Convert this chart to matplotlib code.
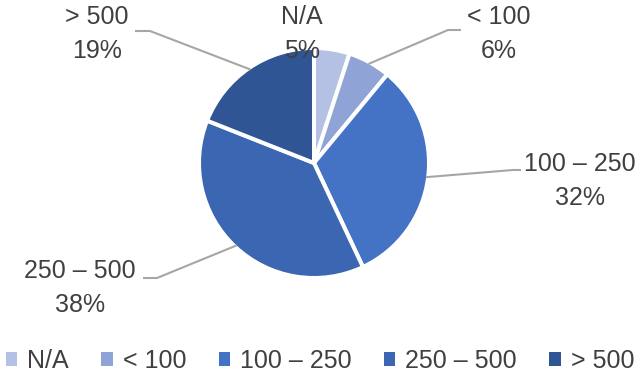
import numpy as np
import matplotlib
matplotlib.use('Agg')
import matplotlib.pyplot as plt
from matplotlib.patches import Patch

plt.rcParams['font.family'] = ['Liberation Sans', 'DejaVu Sans']

categories = ['N/A', '< 100', '100 – 250', '250 – 500', '> 500']
shares = [5, 6, 32, 38, 19]
colors = ['#b4c1e5', '#8fa3d6', '#4472c4', '#3b66b1', '#2f5594']

W, H = 640, 381
CX, CY, R = 314, 163, 115
TEXT = '#404040'

# label block centres and leader line elbow/end (pixel coords, y down)
LABEL_POS = [(302, 34), (499, 34), (580, 181), (80, 288), (97, 34)]
LEADERS = [None, [(448, 30), (461, 30)], [(513, 170), (521, 170)],
           [(157, 278), (143, 278)], [(150, 31), (135, 31)]]


def py(y):
    return H - y


fig = plt.figure(figsize=(W / 100, H / 100), dpi=100)
ax = fig.add_axes([0, 0, 1, 1])

wedges, _ = ax.pie(shares, colors=colors, startangle=90, counterclock=False,
                   center=(CX, py(CY)), radius=R, frame=True,
                   wedgeprops=dict(edgecolor='white', linewidth=2.9))
ax.set_xlim(0, W)
ax.set_ylim(0, H)
ax.set_aspect('equal')
ax.axis('off')

for w, name, val, pos, lead in zip(wedges, categories, shares, LABEL_POS, LEADERS):
    if lead is not None:
        mid = np.deg2rad((w.theta1 + w.theta2) / 2)
        xs = [CX + (R - 2) * np.cos(mid)] + [p[0] for p in lead]
        ys = [py(CY) + (R - 2) * np.sin(mid)] + [py(p[1]) for p in lead]
        ax.plot(xs, ys, color='#a6a6a6', lw=1.5, solid_capstyle='butt', zorder=1)
    ax.text(pos[0], py(pos[1]), f'{name}\n{val}%', ha='center', va='center',
            fontsize=18, color=TEXT, linespacing=1.5, zorder=5)

handles = [Patch(facecolor=c, edgecolor='none', label=n) for c, n in zip(colors, categories)]
fig.legend(handles=handles, loc='center', bbox_to_anchor=(0.5, 1 - 361 / H), ncol=5,
           frameon=False, fontsize=18, labelcolor=TEXT, handlelength=0.45, handleheight=0.45,
           handletextpad=0.4, columnspacing=1.3, borderaxespad=0)

fig.savefig('out.png', dpi=100)
